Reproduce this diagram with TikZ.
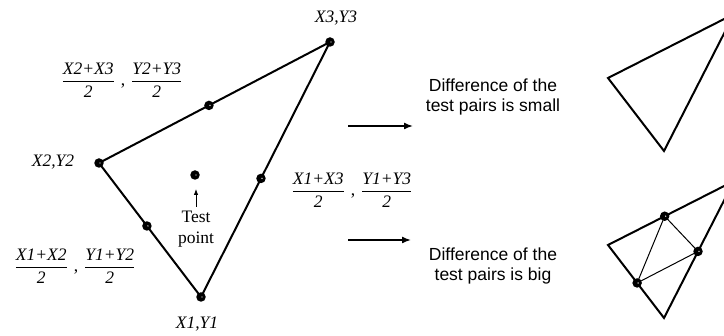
\documentclass[tikz,border=0pt]{standalone}
\usepackage{fontspec}
\setmainfont{Liberation Serif}
\newfontfamily\arialfont{Liberation Sans}
\usetikzlibrary{arrows.meta,calc}
\newcommand\myfrac[2]{$\displaystyle\frac{\hbox{\itshape #1}}{\hbox{\itshape #2}}$}
\newcommand\fracsep{\hspace{6pt},\hspace{6pt}}
\begin{document}
\begin{tikzpicture}[x=1pt,y=-1pt,
  edge/.style={line width=2pt,line join=miter},
  thinedge/.style={line width=1pt},
  dot/.style={circle,fill=black,inner sep=0pt,minimum size=9.5pt,
    path picture={\fill[white] ([xshift=1pt]path picture bounding box.center) circle (0.7pt);}},
  lab/.style={font=\fontsize{17.5}{20.5}\selectfont\itshape,inner sep=0pt},
  frac/.style={font=\fontsize{17.5}{20.5}\selectfont,inner sep=0pt},
  sans/.style={font=\fontsize{17.5}{20.5}\selectfont\arialfont,align=center,inner sep=0pt},
  bigarrow/.style={line width=1.5pt,-{Latex[length=9pt,width=7pt]}},
  smallarrow/.style={line width=0.8pt,-{Latex[length=6pt,width=4.5pt]}}]
\useasboundingbox (0,0) rectangle (724,336);
\clip (0,0) rectangle (724,336);
% main triangle
\coordinate (A1) at (201,297);
\coordinate (A2) at (99,163);
\coordinate (A3) at (330,42);
\draw[edge] (A1) -- (A2) -- (A3) -- cycle;
\node[dot] (d1) at (A1) {};
\node[dot] (d2) at (A2) {};
\node[dot] (d3) at (A3) {};
\node[dot] (m23) at ($(A2)!0.476!(A3)$) {};
\node[dot] (m12) at ($(A2)!0.47!(A1)$) {};
\node[dot] (m13) at ($(A1)!0.465!(A3)$) {};
\node[dot] (tp) at (195,175) {};
\coordinate (tpa) at (196,207);
\draw[smallarrow] (tpa) -- (196,189);
\node[frac,align=center,anchor=north] (tptext) at (196,211) {Test\\point};
% labels
\node[lab] (l3) at (336,18) {X3,Y3};
\node[lab] (l2) at (53,162) {X2,Y2};
\node[lab] (l1) at (197,324) {X1,Y1};
\node[frac] (f23) at (122,80) {\myfrac{X2+X3}{2}\fracsep\myfrac{Y2+Y3}{2}};
\node[frac] (f12) at (75,266) {\myfrac{X1+X2}{2}\fracsep\myfrac{Y1+Y2}{2}};
\node[frac] (f13) at (352,190) {\myfrac{X1+X3}{2}\fracsep\myfrac{Y1+Y3}{2}};
% arrows
\coordinate (a1s) at (348,126);
\coordinate (a1e) at (413,126);
\coordinate (a2s) at (348,240);
\coordinate (a2e) at (411,240);
\draw[bigarrow] (a1s) -- (a1e);
\draw[bigarrow] (a2s) -- (a2e);
\node[sans] (t1) at (493,97) {Difference of the\\test pairs is small};
\node[sans] (t2) at (493,266) {Difference of the\\test pairs is big};
% small triangle top
\coordinate (B1) at (664,151);
\coordinate (B2) at (608,78);
\coordinate (B3) at (734,14);
\draw[edge] (B1) -- (B2) -- (B3) -- cycle;
% small triangle bottom
\coordinate (C1) at (664,318);
\coordinate (C2) at (608,245);
\coordinate (C3) at (734,181);
\draw[edge] (C1) -- (C2) -- (C3) -- cycle;
\coordinate (c23) at ($(C2)!0.45!(C3)$);
\coordinate (c12) at ($(C2)!0.52!(C1)$);
\coordinate (c13) at ($(C1)!0.486!(C3)$);
\draw[thinedge] (c23) -- (c12) -- (c13) -- cycle;
\node[dot] (e23) at (c23) {};
\node[dot] (e12) at (c12) {};
\node[dot] (e13) at (c13) {};
\end{tikzpicture}
\end{document}
